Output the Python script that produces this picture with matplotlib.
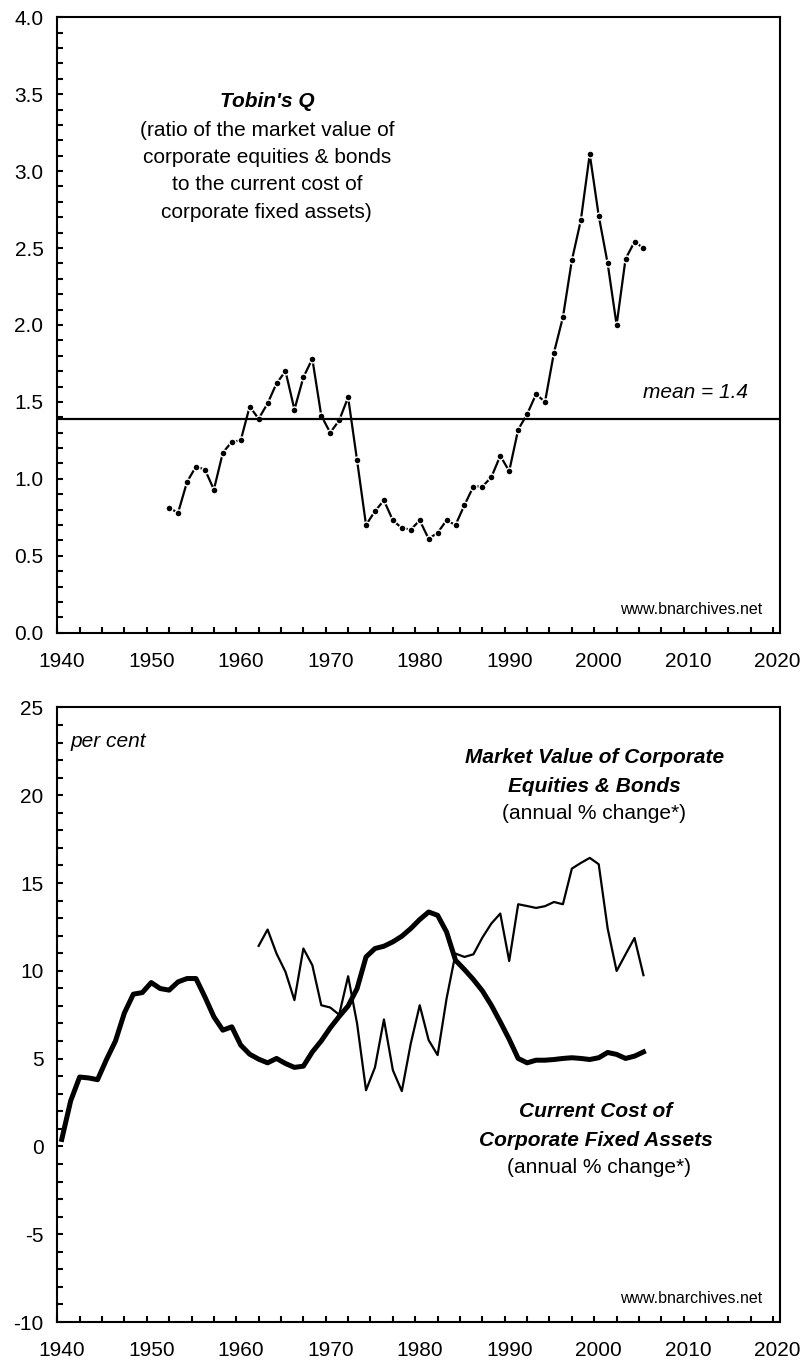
import numpy as np
import matplotlib
matplotlib.use("Agg")
import matplotlib.pyplot as plt
from matplotlib.ticker import MultipleLocator, FixedLocator

plt.rcParams['font.family'] = ['Liberation Sans', 'DejaVu Sans']
plt.rcParams['axes.unicode_minus'] = False

# Tobin's Q, 1952-2005
q_years = np.arange(1952, 2006)
q_values = [0.81, 0.78, 0.98, 1.08, 1.06, 0.93, 1.17, 1.24, 1.25, 1.47,
            1.39, 1.49, 1.62, 1.70, 1.45, 1.66, 1.78, 1.41, 1.30, 1.38,
            1.53, 1.12, 0.70, 0.79, 0.86, 0.73, 0.68, 0.67, 0.73, 0.61,
            0.65, 0.73, 0.70, 0.83, 0.95, 0.95, 1.01, 1.15, 1.05, 1.32,
            1.42, 1.55, 1.50, 1.82, 2.05, 2.42, 2.68, 3.11, 2.71, 2.40,
            2.00, 2.43, 2.54, 2.50]
q_mean = 1.39

# current cost of corporate fixed assets, annual % change, 1940-2005
cost_years = np.arange(1940, 2006)
cost_change = [0.4, 2.6, 3.95, 3.9, 3.8, 4.95, 6.0, 7.6, 8.67, 8.76,
               9.33, 8.99, 8.9, 9.37, 9.56, 9.56, 8.51, 7.38, 6.62, 6.81,
               5.77, 5.25, 4.97, 4.76, 5.01, 4.72, 4.5, 4.57, 5.38, 6.01,
               6.75, 7.4, 8.0, 8.99, 10.79, 11.27, 11.4, 11.65, 11.97, 12.41,
               12.92, 13.35, 13.16, 12.21, 10.6, 10.07, 9.5, 8.86, 8.04, 7.09,
               6.1, 5.01, 4.76, 4.91, 4.91, 4.95, 5.01, 5.05, 5.01, 4.95,
               5.05, 5.35, 5.24, 5.01, 5.14, 5.38]

# market value of corporate equities & bonds, annual % change, 1962-2005
mv_years = np.arange(1962, 2006)
mv_change = [11.42, 12.35, 10.98, 9.94, 8.33, 11.27, 10.32, 8.04,
             7.91, 7.5, 9.69, 7.0, 3.2, 4.5, 7.23, 4.34, 3.15, 5.86,
             8.04, 6.05, 5.2, 8.42, 10.98, 10.79, 10.94, 11.89, 12.69, 13.26,
             10.56, 13.79, 13.69, 13.58, 13.68, 13.92, 13.79, 15.82, 16.14, 16.43,
             16.07, 12.41, 9.99, 10.94, 11.87, 9.75]

decades = np.arange(1940, 2021, 10)

fig = plt.figure(figsize=(8.01, 13.68), dpi=100)
ax1 = fig.add_axes([0.0715, 0.5375, 0.9022, 0.4499])
ax2 = fig.add_axes([0.0715, 0.0336, 0.9022, 0.4493])


def style_axes(ax):
    for s in ax.spines.values():
        s.set_linewidth(1.5)
    ax.set_xlim(1939.5, 2020.25)
    ax.xaxis.set_major_locator(FixedLocator(decades))
    ax.xaxis.set_minor_locator(FixedLocator(np.arange(1939.5, 2020, 2.5)))
    ax.tick_params(axis='x', which='major', length=0, pad=14, labelsize=15)
    ax.tick_params(axis='x', which='minor', direction='in', length=4, width=1.5)
    ax.tick_params(axis='y', which='both', direction='in', length=4, width=1.5,
                   pad=10, labelsize=15)


# top: Tobin's Q
ax1.plot(q_years, q_values, color='black', lw=1.6, marker='o', ms=5,
         mfc='black', mec='white', mew=1.0)
ax1.axhline(q_mean, color='black', lw=1.6)
ax1.set_ylim(0, 4)
ax1.yaxis.set_major_locator(MultipleLocator(0.5))
ax1.yaxis.set_minor_locator(MultipleLocator(0.1))
ax1.yaxis.set_major_formatter(matplotlib.ticker.FormatStrFormatter('%.1f'))
style_axes(ax1)

ax1.text(0.29, 0.863, "Tobin's Q", transform=ax1.transAxes, ha='center',
         va='center', fontsize=15, fontweight='bold', fontstyle='italic')
q_note = ["(ratio of the market value of", "corporate equities & bonds",
          "to the current cost of", "corporate fixed assets)"]
for i, line in enumerate(q_note):
    ax1.text(0.29, 0.8167 - i * 0.0445, line, transform=ax1.transAxes,
             ha='center', va='center', fontsize=15)
ax1.text(0.956, 0.3895, "mean = 1.4", transform=ax1.transAxes, ha='right',
         va='center', fontsize=15, fontstyle='italic')
ax1.text(0.975, 0.038, "www.bnarchives.net", transform=ax1.transAxes,
         ha='right', va='center', fontsize=11.5)

# bottom: annual % changes
ax2.plot(cost_years, cost_change, color='black', lw=3.6)
ax2.plot(mv_years, mv_change, color='black', lw=1.6)
ax2.set_ylim(-10, 25)
ax2.yaxis.set_major_locator(MultipleLocator(5))
ax2.yaxis.set_minor_locator(MultipleLocator(1))
style_axes(ax2)

ax2.text(0.018, 0.945, "per cent", transform=ax2.transAxes, ha='left',
         va='center', fontsize=15, fontstyle='italic')
ax2.text(0.743, 0.919, "Market Value of Corporate", transform=ax2.transAxes,
         ha='center', va='center', fontsize=15, fontweight='bold', fontstyle='italic')
ax2.text(0.743, 0.8714, "Equities & Bonds", transform=ax2.transAxes,
         ha='center', va='center', fontsize=15, fontweight='bold', fontstyle='italic')
ax2.text(0.743, 0.8276, "(annual % change*)", transform=ax2.transAxes,
         ha='center', va='center', fontsize=15)
ax2.text(0.745, 0.3433, "Current Cost of", transform=ax2.transAxes,
         ha='center', va='center', fontsize=15, fontweight='bold', fontstyle='italic')
ax2.text(0.745, 0.2961, "Corporate Fixed Assets", transform=ax2.transAxes,
         ha='center', va='center', fontsize=15, fontweight='bold', fontstyle='italic')
ax2.text(0.75, 0.2522, "(annual % change*)", transform=ax2.transAxes,
         ha='center', va='center', fontsize=15)
ax2.text(0.975, 0.038, "www.bnarchives.net", transform=ax2.transAxes,
         ha='right', va='center', fontsize=11.5)

fig.savefig("out.png", dpi=100)
